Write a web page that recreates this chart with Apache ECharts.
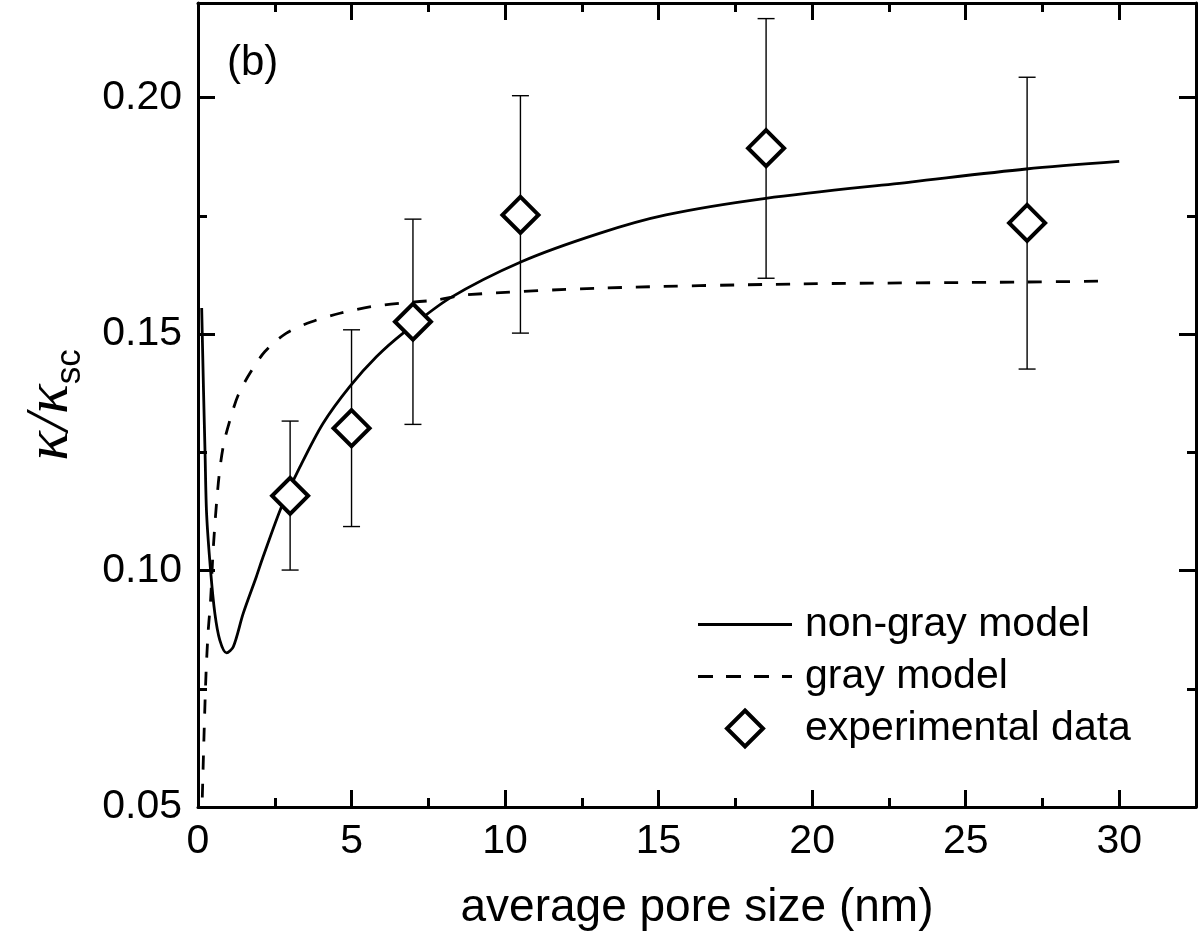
<!DOCTYPE html>
<html><head><meta charset="utf-8">
<script src="https://cdn.jsdelivr.net/npm/echarts@6/dist/echarts.min.js"></script>
<style>html,body{margin:0;padding:0;background:#fff}#c{width:1200px;height:937px}</style>
</head><body><div id="c"></div>
<script>
// ---- data ----
const nonGrayX = [0.12, 0.18, 0.23, 0.28, 0.41, 0.55, 0.71, 0.93, 1.15, 1.47, 1.9, 2.12, 2.72, 3.32, 4.07, 4.94, 5.81, 6.68, 8.2, 10.53, 13.07, 15.24, 18.49, 23.26, 26.97, 30.0];
const nonGrayY = [0.1555, 0.138, 0.1248, 0.112, 0.100, 0.0909, 0.0853, 0.0826, 0.0839, 0.0909, 0.0987, 0.1029, 0.1135, 0.1219, 0.1311, 0.1389, 0.1452, 0.1502, 0.1576, 0.1653, 0.1713, 0.1752, 0.1787, 0.1822, 0.1849, 0.1865];
const grayX = [0.14, 0.2, 0.26, 0.33, 0.41, 0.5, 0.66, 0.82, 1.04, 1.31, 1.69, 2.18, 2.88, 3.7, 4.62, 5.65, 6.68, 7.76, 8.74, 13.07, 19.58, 26.97, 29.5];
const grayY = [0.052, 0.066, 0.078, 0.087, 0.0937, 0.105, 0.1184, 0.1262, 0.1318, 0.1371, 0.1417, 0.1463, 0.1502, 0.1526, 0.1544, 0.1558, 0.1566, 0.1572, 0.1583, 0.1597, 0.1606, 0.161, 0.1612];
const expX = [3, 5, 7, 10.5, 18.5, 27];
const expY = [0.1158, 0.1301, 0.1526, 0.1752, 0.1893, 0.1735];
const expLow = [0.1001, 0.1093, 0.1309, 0.1502, 0.1618, 0.1426];
const expHigh = [0.1316, 0.1509, 0.1743, 0.2004, 0.2167, 0.2043];
const seriesNames = ['non-gray model', 'gray model', 'experimental data'];
const xTitle = 'average pore size (nm)';
const panelLabel = '(b)';

const X_MIN = 0, X_MAX = 32.5, Y_MIN = 0.05, Y_MAX = 0.22;
const FONT = 'Liberation Sans';
const BLACK = '#000';

function baseAx(pos, interval, len, min, max, extra) {
  return Object.assign({
    type: 'value', position: pos, min: min, max: max, interval: interval,
    axisLine: { show: len > 10, onZero: false, lineStyle: { color: BLACK, width: 3 } },
    axisTick: { show: true, inside: true, length: len, lineStyle: { color: BLACK, width: 3 } },
    axisLabel: { show: false },
    splitLine: { show: false }
  }, extra || {});
}
const xAx = (pos, iv, len, extra) => baseAx(pos, iv, len, X_MIN, X_MAX, extra);
const yAx = (pos, iv, len, extra) => baseAx(pos, iv, len, Y_MIN, Y_MAX, extra);

const legendLineIcon = 'path://M0,0H94V3H0Z';
const legendDashIcon = 'path://M0,0H15V3H0Z M28,0H43V3H28Z M56,0H71V3H56Z M84,0H94V3H84Z';
const legendDiamondIcon = 'path://M18,0L36,18L18,36L0,18Z';

const chart = echarts.init(document.getElementById('c'), null, { renderer: 'canvas' });
chart.setOption({
  animation: false,
  backgroundColor: '#fff',
  title: {
    text: panelLabel, left: 227, top: 42, padding: 0,
    textStyle: { fontSize: 42, fontWeight: 'normal', fontFamily: FONT, color: BLACK }
  },
  grid: { left: 198, right: 4, top: 3, bottom: 130, containLabel: false },
  legend: {
    orient: 'vertical', left: 698, top: 604, itemWidth: 94, itemHeight: 36, itemGap: 11, padding: 0,
    symbolKeepAspect: true,
    textStyle: { fontSize: 41, color: BLACK, fontFamily: FONT, padding: [0, 0, 0, 8] },
    data: [
      { name: seriesNames[0], icon: legendLineIcon, itemStyle: { color: BLACK, borderWidth: 0 } },
      { name: seriesNames[1], icon: legendDashIcon, itemStyle: { color: BLACK, borderWidth: 0 } },
      { name: seriesNames[2], icon: legendDiamondIcon, itemStyle: { color: '#fff', borderColor: BLACK, borderWidth: 4 } }
    ]
  },
  xAxis: [
    xAx('bottom', 5, 17, {
      axisLabel: { show: true, fontSize: 41, color: BLACK, fontFamily: FONT, margin: 14, showMaxLabel: false },
      name: xTitle, nameLocation: 'middle', nameGap: 78,
      nameTextStyle: { fontSize: 46, color: BLACK, fontFamily: FONT }
    }),
    xAx('bottom', 2.5, 9),
    xAx('top', 5, 17),
    xAx('top', 2.5, 9)
  ],
  yAxis: [
    yAx('left', 0.05, 17, {
      axisLabel: { show: true, fontSize: 41, color: BLACK, fontFamily: FONT, margin: 16, showMaxLabel: false,
        formatter: v => v.toFixed(2) },
      name: '{k|κ/κ}{s|sc}', nameLocation: 'middle', nameGap: 110, nameRotate: 90,
      nameTextStyle: {
        rich: {
          k: { fontFamily: 'Liberation Serif', fontStyle: 'italic', fontSize: 62, color: BLACK },
          s: { fontFamily: FONT, fontSize: 35, color: BLACK, padding: [40, 0, 0, 0] }
        }
      }
    }),
    yAx('left', 0.025, 9),
    yAx('right', 0.05, 17),
    yAx('right', 0.025, 9)
  ],
  series: [
    {
      name: seriesNames[0], type: 'line', xAxisIndex: 0, yAxisIndex: 0,
      data: nonGrayX.map((x, i) => [x, nonGrayY[i]]),
      symbol: 'none', smooth: 0.3, z: 2,
      lineStyle: { color: BLACK, width: 2.8, type: 'solid' }, itemStyle: { color: BLACK }
    },
    {
      name: seriesNames[1], type: 'line', xAxisIndex: 0, yAxisIndex: 0,
      data: grayX.map((x, i) => [x, grayY[i]]),
      symbol: 'none', smooth: 0.3, z: 2,
      lineStyle: { color: BLACK, width: 2.8, type: [14, 14] }, itemStyle: { color: BLACK }
    },
    {
      name: 'error', type: 'custom', xAxisIndex: 0, yAxisIndex: 0, z: 3,
      data: expX.map((x, i) => [x, expLow[i], expHigh[i]]),
      encode: { x: 0, y: [1, 2] },
      renderItem: function (params, api) {
        const x = api.value(0);
        const p1 = api.coord([x, api.value(1)]);
        const p2 = api.coord([x, api.value(2)]);
        const w = 8.5;
        const st = { stroke: BLACK, lineWidth: 1.4 };
        return {
          type: 'group', children: [
            { type: 'line', shape: { x1: p1[0], y1: p1[1], x2: p2[0], y2: p2[1] }, style: st },
            { type: 'line', shape: { x1: p1[0] - w, y1: p1[1], x2: p1[0] + w, y2: p1[1] }, style: st },
            { type: 'line', shape: { x1: p2[0] - w, y1: p2[1], x2: p2[0] + w, y2: p2[1] }, style: st }
          ]
        };
      }
    },
    {
      name: seriesNames[2], type: 'scatter', xAxisIndex: 0, yAxisIndex: 0, z: 4,
      data: expX.map((x, i) => [x, expY[i]]),
      symbol: 'diamond', symbolSize: 36,
      itemStyle: { color: '#fff', borderColor: BLACK, borderWidth: 4, opacity: 1 }
    }
  ]
});
</script></body></html>
